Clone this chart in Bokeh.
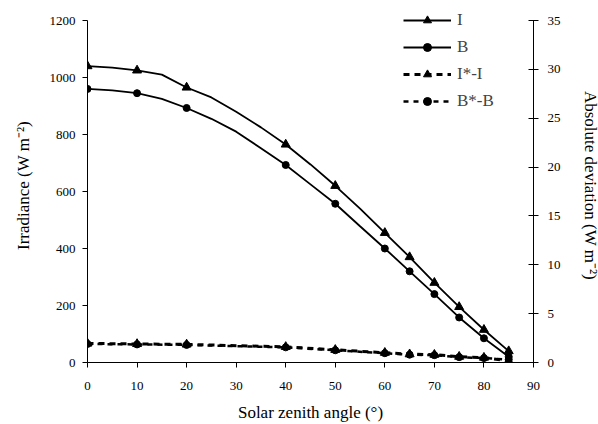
from bokeh.plotting import figure
from bokeh.models import LinearAxis, Range1d, FixedTicker
from bokeh.embed import file_html
from bokeh.resources import INLINE

# Data
angles = [0, 5, 10, 15, 20, 25, 30, 35, 40, 45, 50, 55, 60, 65, 70, 75, 80, 85]
I_vals = [1040, 1035, 1025, 1010, 965, 930, 880, 825, 765, 695, 620, 540, 455, 370, 280, 195, 115, 40]
B_vals = [960, 955, 945, 925, 893, 855, 810, 752, 693, 625, 557, 478, 400, 320, 240, 158, 85, 20]
marker_angles = [0, 10, 20, 40, 50, 60, 65, 70, 75, 80, 85]
dev_I = [1.95, 1.9, 1.85, 1.6, 1.3, 1.0, 0.85, 0.8, 0.6, 0.5, 0.15]
dev_B = [1.9, 1.85, 1.8, 1.55, 1.25, 0.95, 0.8, 0.75, 0.55, 0.45, 0.3]
x_ticks = [0, 10, 20, 30, 40, 50, 60, 70, 80, 90]
left_ticks = [0, 200, 400, 600, 800, 1000, 1200]
right_ticks = [0, 5, 10, 15, 20, 25, 30, 35]

FONT = "Liberation Serif"

I_mark = [I_vals[angles.index(a)] for a in marker_angles]
B_mark = [B_vals[angles.index(a)] for a in marker_angles]

# frame extends a little above the axis tops so the legend fits; axis lines bounded
FH = 354
AX_H = 342
p = figure(frame_width=446, frame_height=FH, output_backend="svg", toolbar_location=None,
           x_range=Range1d(0, 90), y_range=Range1d(0, 1200 * FH / AX_H),
           min_border_left=87, min_border_top=8, min_border_right=60, min_border_bottom=54)
p.outline_line_color = None
p.xgrid.visible = False
p.ygrid.visible = False
p.extra_y_ranges = {"dev": Range1d(0, 35 * FH / AX_H)}

# Irradiance lines
p.line(angles, I_vals, line_color="black", line_width=1.8, legend_label="I")
p.scatter(marker_angles, I_mark, marker="triangle", size=9, color="black", legend_label="I")
p.line(angles, B_vals, line_color="black", line_width=1.8, legend_label="B")
p.scatter(marker_angles, B_mark, marker="circle", size=7, color="black", legend_label="B")

# Deviation lines (right axis)
p.line(marker_angles, dev_I, line_color="black", line_width=3, line_dash="6 5",
       y_range_name="dev", legend_label="I*-I")
p.scatter(marker_angles, dev_I, marker="triangle", size=9, color="black",
          y_range_name="dev", legend_label="I*-I")
p.line(marker_angles, dev_B, line_color="black", line_width=2.5, line_dash="5 5",
       y_range_name="dev", legend_label="B*-B")
p.scatter(marker_angles, dev_B, marker="circle", size=7, color="black",
          y_range_name="dev", legend_label="B*-B")

right = LinearAxis(y_range_name="dev", axis_label="Absolute deviation (W m\u207b\u00b2)")
p.add_layout(right, "right")

for ax in [p.xaxis[0], p.yaxis[0], right]:
    ax.axis_line_color = "black"
    ax.major_tick_line_color = "black"
    ax.minor_tick_line_color = None
    ax.major_label_text_font = FONT
    ax.major_label_text_font_size = "13px"
    ax.major_label_text_color = "black"
    ax.axis_label_text_font = FONT
    ax.axis_label_text_font_size = "17px"
    ax.axis_label_text_font_style = "normal"
    ax.axis_label_text_color = "black"
    ax.major_tick_out = 5
    ax.major_tick_in = 0

p.xaxis[0].ticker = FixedTicker(ticks=x_ticks)
p.yaxis[0].ticker = FixedTicker(ticks=left_ticks)
p.yaxis[0].bounds = (0, 1200)
right.ticker = FixedTicker(ticks=right_ticks)
right.bounds = (0, 35)
right.major_tick_in = 5
p.xaxis[0].axis_label = "Solar zenith angle (\u00b0)"
p.yaxis[0].axis_label = "Irradiance (W m\u207b\u00b2)"
p.xaxis[0].major_label_standoff = 14
p.xaxis[0].axis_label_standoff = 10
p.yaxis[0].major_label_standoff = 7
p.yaxis[0].axis_label_standoff = 14
right.major_label_standoff = 9
right.axis_label_standoff = 17

lg = p.legend[0]
lg.location = (316, 251)
lg.border_line_color = None
lg.background_fill_alpha = 0
lg.label_text_font = FONT
lg.label_text_font_size = "17px"
lg.glyph_width = 48
lg.label_height = 20
lg.glyph_height = 20
lg.spacing = 7
lg.padding = 0
lg.margin = 0
lg.label_standoff = 6

open("out.html", "w").write(file_html(p, INLINE))
